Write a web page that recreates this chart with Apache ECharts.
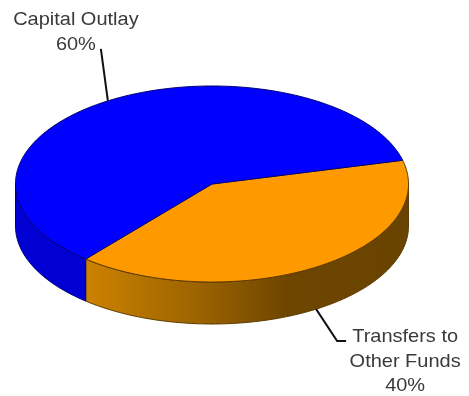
<!DOCTYPE html>
<html>
<head>
<meta charset="utf-8">
<style>html,body{margin:0;padding:0;background:#fff}#chart{width:469px;height:396px}</style>
<script src="https://cdn.jsdelivr.net/npm/echarts@6/dist/echarts.min.js"></script>
</head>
<body>
<div id="chart"></div>
<script>
// Budget shares
const categories = ['Transfers to\nOther Funds', 'Capital Outlay'];
const shares = [40, 60];

// Disc geometry of the tilted pie
const disc = { cx: 212, cy: 184, rx: 196.5, ry: 98, depth: 42, startDeg: -14 };

// Per-slice appearance and callout placement (offsets run from the slice's rim anchor)
const sliceLooks = [
  {
    top: '#ff9900', edge: '#5c3b00',
    wall: [[0, '#cc8200'], [0.35, '#9c6300'], [0.62, '#6e4600'], [1, '#694300']],
    leader: [[0, 0], [21, 32], [30, 32]],
    labelAt: [89, 16], onWall: true
  },
  {
    top: '#0000ff', edge: '#00007a',
    wall: '#0000d2',
    leader: [[0, 0], [-7, -52]],
    labelAt: [-32, -93], onWall: false
  }
];

const rad = d => d * Math.PI / 180;
const rimPoint = (deg, dy) => [
  disc.cx + disc.rx * Math.cos(rad(deg)),
  disc.cy + disc.ry * Math.sin(rad(deg)) + (dy || 0)
];
const arc = (from, to, dy) => {
  const n = Math.max(2, Math.ceil(Math.abs(to - from)));
  const pts = [];
  for (let i = 0; i <= n; i++) pts.push(rimPoint(from + (to - from) * i / n, dy));
  return pts;
};

const total = shares.reduce((a, b) => a + b, 0);
let cursor = disc.startDeg;
const slices = shares.map((v, i) => {
  const from = cursor;
  const to = from + v / total * 360;
  cursor = to;
  return { from, to, mid: (from + to) / 2, look: sliceLooks[i], name: categories[i], share: v };
});

// Front-facing side wall: only the part of the rim between 0 and 180 degrees shows
function wallElement(s) {
  const a = Math.max(s.from, 0), b = Math.min(s.to, 180);
  if (b <= a) return null;
  const left = rimPoint(b, 0)[0];
  const right = rimPoint(a, 0)[0];
  const fill = Array.isArray(s.look.wall)
    ? new echarts.graphic.LinearGradient(left, 0, right, 0,
        s.look.wall.map(([offset, color]) => ({ offset, color })), true)
    : s.look.wall;
  return {
    type: 'polygon',
    shape: { points: arc(a, b, 0).concat(arc(b, a, disc.depth)) },
    style: { fill, stroke: s.look.edge, lineWidth: 1 }
  };
}

function topElement(s) {
  return {
    type: 'polygon',
    shape: { points: [[disc.cx, disc.cy]].concat(arc(s.from, s.to, 0)) },
    style: { fill: s.look.top, stroke: s.look.edge, lineWidth: 1, lineJoin: 'round' }
  };
}

function calloutElements(s) {
  const anchor = rimPoint(s.mid, s.look.onWall ? disc.depth : 0);
  const at = ([dx, dy]) => [anchor[0] + dx, anchor[1] + dy];
  return [
    {
      type: 'polyline',
      shape: { points: s.look.leader.map(at) },
      style: { fill: null, stroke: '#111', lineWidth: 2 }
    },
    {
      type: 'text',
      x: at(s.look.labelAt)[0],
      y: at(s.look.labelAt)[1],
      scaleX: 1.08,
      style: {
        text: s.name + '\n' + s.share + '%',
        fill: '#3a3a3a',
        font: '18.5px "Liberation Sans", Arial, sans-serif',
        lineHeight: 24.5,
        align: 'center',
        verticalAlign: 'top'
      }
    }
  ];
}

const chart = echarts.init(document.getElementById('chart'), null, { renderer: 'canvas' });
chart.setOption({
  animation: false,
  backgroundColor: '#ffffff',
  xAxis: { show: false },
  yAxis: { show: false },
  series: [{
    type: 'custom',
    coordinateSystem: 'none',
    data: [shares[0]],
    renderItem: () => ({
      type: 'group',
      children: [
        ...slices.map(wallElement).filter(Boolean),
        ...slices.map(topElement),
        ...slices.flatMap(calloutElements)
      ]
    })
  }]
});
</script>
</body>
</html>
